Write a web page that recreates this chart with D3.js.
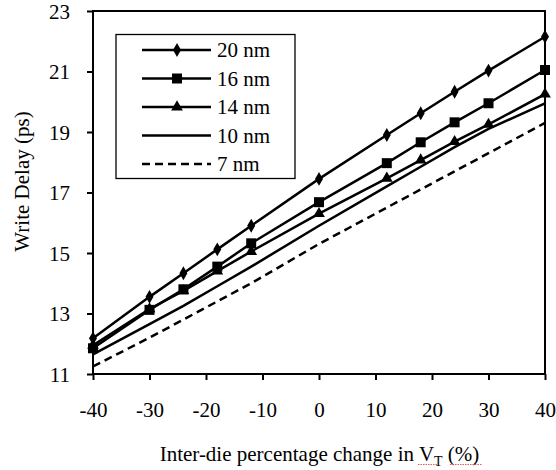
<!DOCTYPE html>
<html>
<head>
<meta charset="utf-8">
<script src="https://cdn.jsdelivr.net/npm/d3@7"></script>
</head>
<body style="margin:0">
<svg width="556" height="470" id="chart"></svg>
<script>
// Write delay vs inter-die V_T change, one line per technology node.

const xVals = [-40, -30, -24, -18, -12, 0, 12, 18, 24, 30, 40];
const nm20 = [12.18, 13.55, 14.33, 15.12, 15.9, 17.45, 18.9, 19.62, 20.33, 21.03, 22.15];
const nm16 = [11.85, 13.12, 13.8, 14.55, 15.32, 16.68, 17.97, 18.66, 19.32, 19.95, 21.05];
const nm14 = [11.95, 13.15, 13.75, 14.4, 15.05, 16.3, 17.47, 18.07, 18.68, 19.25, 20.25];
const nm10 = [11.65, 12.65, 13.25, 13.9, 14.55, 15.9, 17.2, 17.85, 18.5, 19.1, 19.95];
const nm7 = [11.25, 12.2, 12.8, 13.4, 14.0, 15.3, 16.5, 17.1, 17.7, 18.3, 19.3];
const xTicks = [-40, -30, -20, -10, 0, 10, 20, 30, 40];
const yTicks = [11, 13, 15, 17, 19, 21, 23];
const labels = ['20 nm', '16 nm', '14 nm', '10 nm', '7 nm'];

const series = [
  { label: labels[0], values: nm20, marker: d3.symbolDiamond, size: 55, dash: null },
  { label: labels[1], values: nm16, marker: d3.symbolSquare, size: 100, dash: null },
  { label: labels[2], values: nm14, marker: d3.symbolTriangle, size: 60, dash: null },
  { label: labels[3], values: nm10, marker: null, dash: null },
  { label: labels[4], values: nm7, marker: null, dash: '8,5' },
];

const W = 556, H = 470;
const m = { top: 11, right: 11, bottom: 96, left: 93 };
const FS = 21;

const svg = d3.select('#chart');

const x = d3.scaleLinear().domain([-40, 40]).range([m.left, W - m.right]);
const y = d3.scaleLinear().domain([11, 23]).range([H - m.bottom, m.top]);

// serif text helper: font set on the element itself
const serif = (sel) => sel
  .attr('font-family', '"Times New Roman"')
  .style('font-family', '"Liberation Serif"')
  .attr('font-size', FS)
  .attr('fill', '#000');

// frame
svg.append('rect')
  .attr('x', x(-40)).attr('y', y(23))
  .attr('width', x(40) - x(-40)).attr('height', y(11) - y(23))
  .attr('fill', 'none').attr('stroke', '#000').attr('stroke-width', 2);

// ticks and tick labels
const xAxis = svg.append('g')
  .attr('transform', `translate(0,${y(11)})`)
  .call(d3.axisBottom(x).tickValues(xTicks).tickSize(6).tickFormat(String));
const yAxis = svg.append('g')
  .attr('transform', `translate(${x(-40)},0)`)
  .call(d3.axisLeft(y).tickValues(yTicks).tickSize(6).tickFormat(String));

for (const ax of [xAxis, yAxis]) {
  ax.attr('font-family', null).attr('font-size', null);
  ax.select('.domain').remove();
  ax.selectAll('.tick line').attr('stroke', '#000').attr('stroke-width', 2);
  ax.selectAll('.tick text').remove();
}
serif(xAxis.selectAll('.tick').append('text')
  .attr('y', 43)
  .attr('text-anchor', 'middle')
  .text((d) => String(d)));
serif(yAxis.selectAll('.tick').append('text')
  .attr('x', -23).attr('y', 7)
  .attr('text-anchor', 'end')
  .text((d) => String(d)));

const line = d3.line().x((d, i) => x(xVals[i])).y((d) => y(d));

svg.append('g').selectAll('path')
  .data(series)
  .join('path')
  .attr('d', (s) => line(s.values))
  .attr('fill', 'none')
  .attr('stroke', '#000')
  .attr('stroke-width', 2.5)
  .attr('stroke-dasharray', (s) => s.dash);

for (const s of series.filter((s) => s.marker)) {
  svg.append('g').selectAll('path')
    .data(s.values)
    .join('path')
    .attr('transform', (d, i) => `translate(${x(xVals[i])},${y(d)})`)
    .attr('d', d3.symbol(s.marker, s.size))
    .attr('fill', '#000');
}

// legend
const lg = svg.append('g');
lg.append('rect')
  .attr('x', 116).attr('y', 34.5).attr('width', 179).attr('height', 144)
  .attr('fill', '#fff').attr('stroke', '#000').attr('stroke-width', 1.3);

const rows = lg.selectAll('g.row')
  .data(series)
  .join('g')
  .attr('class', 'row')
  .attr('transform', (s, i) => `translate(0,${50 + i * 28.5})`);

rows.append('line')
  .attr('x1', 142).attr('x2', 211)
  .attr('stroke', '#000').attr('stroke-width', 2.5)
  .attr('stroke-dasharray', (s) => s.dash);
rows.filter((s) => s.marker).append('path')
  .attr('transform', 'translate(177,0)')
  .attr('d', (s) => d3.symbol(s.marker, s.size)())
  .attr('fill', '#000');
serif(rows.append('text')
  .attr('x', 217).attr('y', 7)
  .text((s) => s.label));

// axis titles
const xt = serif(svg.append('text')
  .attr('x', 319.5).attr('y', 461)
  .attr('text-anchor', 'middle'));
xt.append('tspan').text('Inter-die percentage change in V');
xt.append('tspan').attr('dy', 5).attr('font-size', 14).text('T');
xt.append('tspan').attr('dy', -5).text(' (%)');

// spell-check squiggles under "VT" and "(%)" as in the source
const squiggles = [[418, 437], [450, 482]];
svg.append('g').selectAll('line')
  .data(squiggles)
  .join('line')
  .attr('x1', (d) => d[0]).attr('x2', (d) => d[1])
  .attr('y1', 464.5).attr('y2', 464.5)
  .attr('stroke', '#e06060').attr('stroke-width', 1)
  .attr('stroke-dasharray', '1.5,1');

serif(svg.append('text')
  .attr('transform', 'translate(29,181.5) rotate(-90)')
  .attr('text-anchor', 'middle')
  .text('Write Delay (ps)'));
</script>
</body>
</html>
